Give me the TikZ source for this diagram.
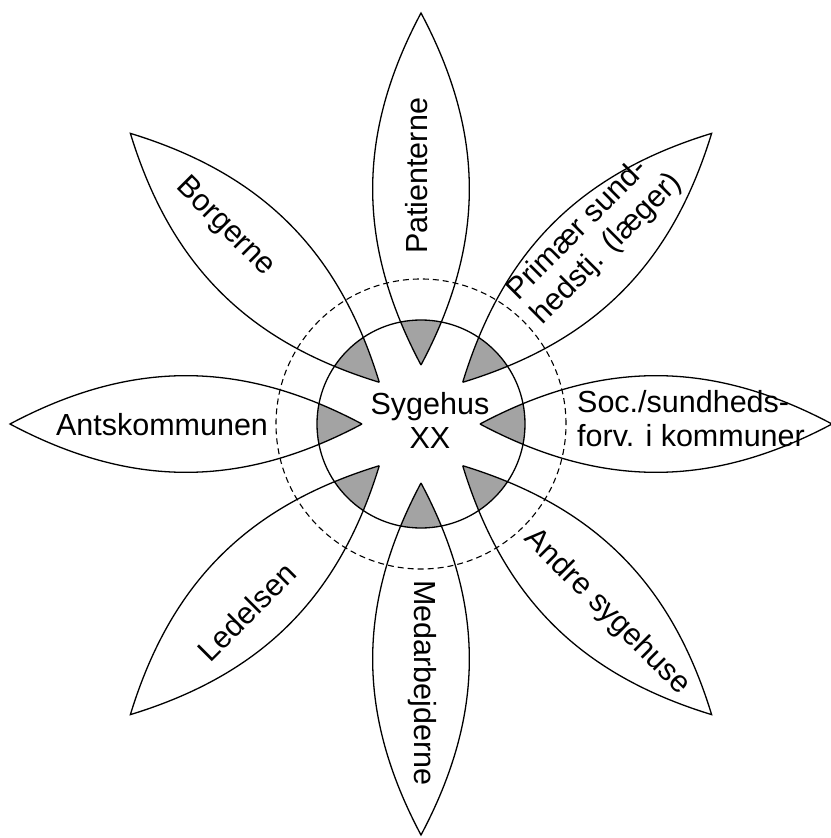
\documentclass[tikz,border=0pt]{standalone}
\usepackage{fontspec}
\setmainfont{Liberation Sans}
\begin{document}
\begin{tikzpicture}[x=1pt, y=1pt,
    petal/.style={line width=1.3pt, line join=miter},
    ring/.style={line width=1.1pt, dash pattern=on 6pt off 4pt},
    lbl/.style={font=\fontsize{30.5}{34}\selectfont, inner sep=0pt}]
    \useasboundingbox (-421,-414) rectangle (409,424);

    % Grey tips of the petals inside the hub
    \begin{scope}
        \clip (0,0) circle (104);
        \foreach \a in {0,45,...,315}
            \fill[gray!72] (\a:59) to[bend left=28] (\a:411) to[bend left=28] (\a:59);
    \end{scope}

    % Petals
    \foreach \a in {0,45,...,315}
        \draw[petal] (\a:59) to[bend left=28] (\a:411) to[bend left=28] (\a:59);

    % Hub and dashed ring
    \draw[line width=1.3pt] (0,0) circle (104);
    \draw[ring] (0,0) circle (145);

    % Labels
    \node[lbl, align=center] (sygehus) at (9,4) {Sygehus\\XX};
    \node[lbl, rotate=90] (patienterne) at (-4,248) {Patienterne};
    \node[lbl, rotate=45, align=left] (primaer) at (174,187) {Primær sund-\\hedstj. (læger)};
    \node[lbl, align=left] (soc) at (270,5) {Soc./sundheds-\\forv. i kommuner};
    \node[lbl, rotate=-45] (andre) at (186,-188) {Andre sygehuse};
    \node[lbl, rotate=-90] (medarbejderne) at (1,-259) {Medarbejderne};
    \node[lbl, rotate=45] (ledelsen) at (-174,-188) {Ledelsen};
    \node[lbl] (amt) at (-259,-1) {Antskommunen};
    \node[lbl, rotate=-45] (borgerne) at (-196,197) {Borgerne};

\end{tikzpicture}
\end{document}
